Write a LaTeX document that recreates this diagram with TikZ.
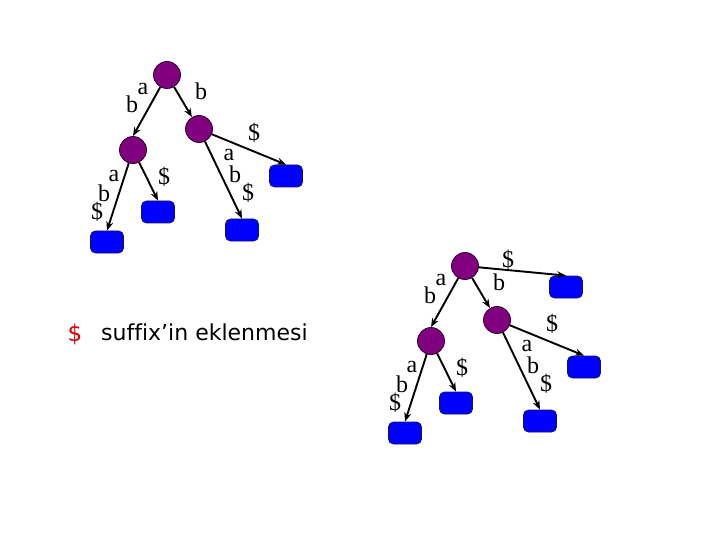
\documentclass[tikz,border=0pt]{standalone}
\usepackage{fontspec}
\setmainfont{Liberation Serif}
\newfontfamily\capfont[Ligatures=NoCommon]{DejaVu Sans}
\usetikzlibrary{arrows.meta}
\definecolor{nodepurple}{RGB}{128,0,128}
\definecolor{leafblue}{RGB}{0,0,255}
\definecolor{leafedge}{RGB}{20,20,90}
\tikzset{
  inner/.style={circle,draw=black!70!nodepurple,fill=nodepurple,minimum size=27pt,inner sep=0pt,line width=0.8pt},
  leaf/.style={rectangle,rounded corners=5pt,draw=leafedge,fill=leafblue,minimum width=33pt,minimum height=22pt,inner sep=0pt,line width=0.8pt},
  conn/.style={-{Stealth[length=9pt,width=7pt]},line width=1.9pt,black},
  lab/.style={inner sep=0pt,font=\fontsize{24}{26}\selectfont}
}
\newcommand{\drawtree}[1]{%
  \node[inner] (#1r) at (167,75) {};
  \node[inner] (#1b) at (199,129) {};
  \node[inner] (#1a) at (133,150) {};
  \node[leaf] (#1l1) at (107,242) {};
  \node[leaf] (#1l2) at (158,212) {};
  \node[leaf] (#1l3) at (242,230) {};
  \node[leaf] (#1l4) at (286,176) {};
  \draw[conn] (#1r) -- (#1a.north);
  \draw[conn] (#1r) -- (#1b);
  \draw[conn] (#1a) -- (#1l1.north);
  \draw[conn] (#1a) -- (#1l2.north);
  \draw[conn] (#1b) -- (#1l3.north);
  \draw[conn] (#1b) -- (#1l4.north);
  \node[lab] (#1t1) at (143,89) {a};
  \node[lab] (#1t2) at (132,104) {b};
  \node[lab] (#1t3) at (201,91) {b};
  \node[lab] (#1t4) at (254,133) {\$};
  \node[lab] (#1t5) at (229,155) {a};
  \node[lab] (#1t6) at (235,174) {b};
  \node[lab] (#1t7) at (248,193) {\$};
  \node[lab] (#1t8) at (114,176) {a};
  \node[lab] (#1t9) at (104,193) {b};
  \node[lab] (#1t10) at (97,212) {\$};
  \node[lab] (#1t11) at (164,177) {\$};
}
\begin{document}
\begin{tikzpicture}[x=1pt,y=-1pt]
\useasboundingbox (0,0) rectangle (720,540);
\fill[white] (0,0) rectangle (720,540);
\drawtree{A}
\begin{scope}[shift={(298,191)}]
\drawtree{B}
\node[leaf] (Bl5) at (268,96) {};
\draw[conn] (Br) -- (Bl5.north);
\node[lab] (Bt12) at (210,69) {\$};
\end{scope}
\node[inner sep=0pt,anchor=base,text=red!85!black,font=\capfont\fontsize{23}{24}\selectfont] (dollar) at (75,341) {\$};
\node[inner sep=0pt,anchor=base west,font=\capfont\fontsize{22}{24}\selectfont] (caption) at (101,340) {suffix’in eklenmesi};
\end{tikzpicture}
\end{document}
